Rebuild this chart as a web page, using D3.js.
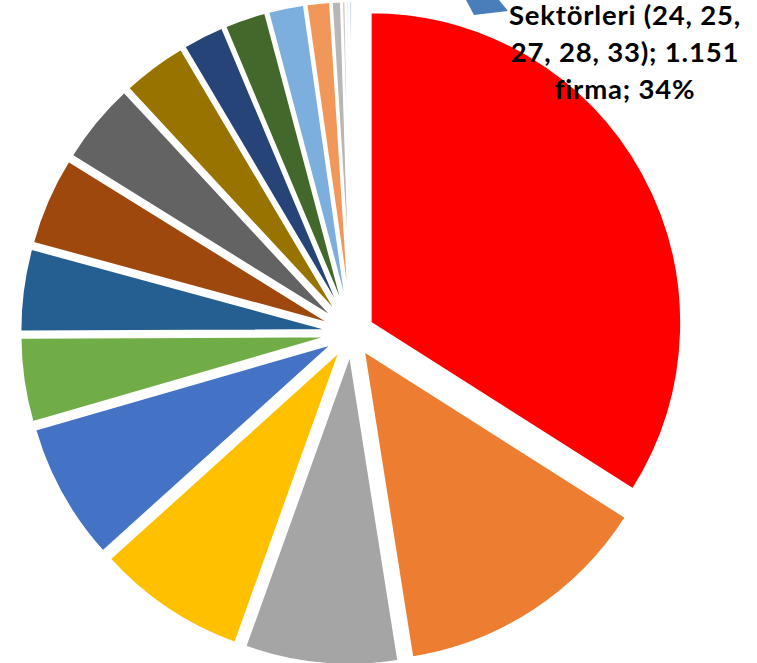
<!DOCTYPE html>
<html>
<head>
<meta charset="utf-8">
<script src="https://cdn.jsdelivr.net/npm/d3@7"></script>
<style>
  body { margin: 0; background: #fff; }
  text { font-family: Lato, "Open Sans", sans-serif; font-weight: bold; }
</style>
</head>
<body>
<div id="chart"></div>
<script>
// firm counts per sector group
const categories = ["Sektörleri (24, 25, 27, 28, 33)", "Grup 2", "Grup 3", "Grup 4", "Grup 5", "Grup 6",
    "Grup 7", "Grup 8", "Grup 9", "Grup 10", "Grup 11", "Grup 12", "Grup 13", "Grup 14",
    "Grup 15", "Grup 16", "Grup 17", "Grup 18"];
const firms = [1151, 457, 270, 265, 244, 149, 146, 156, 144, 115, 74, 74, 64, 42, 17, 7, 5, 5];
const colors = ["#FF0000", "#ED7D31", "#A5A5A5", "#FFC000", "#4472C4", "#70AD47", "#255E91", "#9E480E",
    "#636363", "#997300", "#264478", "#43682B", "#7CAFDD", "#F1975A", "#B7B7B7", "#CCCCCC", "#FFCD33", "#698ED0"];
const labelLines = ["Sektörleri (24, 25,", "27, 28, 33); 1.151", "firma; 34%"];

const width = 757, height = 663;
const cx = 352, cy = 333, radius = 311, explode = 21;

const svg = d3.select("#chart").append("svg")
    .attr("width", width)
    .attr("height", height);

const pie = d3.pie().sort(null).value(d => d.v);
const arc = d3.arc().innerRadius(0).outerRadius(radius);

const data = firms.map((v, i) => ({ name: categories[i], v: v, color: colors[i] }));

const g = svg.append("g").attr("transform", "translate(" + cx + "," + cy + ")");

// every slice is pulled out a bit along its middle angle
g.selectAll("path.slice")
    .data(pie(data))
    .join("path")
    .attr("class", "slice")
    .attr("d", arc)
    .attr("fill", d => d.data.color)
    .attr("stroke", "#fff")
    .attr("stroke-width", 2.5)
    .attr("transform", d => {
        let mid = (d.startAngle + d.endAngle) / 2;
        return "translate(" + (Math.sin(mid) * explode) + "," + (-Math.cos(mid) * explode) + ")";
    });

// leader arrow (cut off at the top edge)
svg.append("path")
    .attr("d", "M466,0 L474,15 L508,11 L499,0 Z")
    .attr("fill", "#4A7EBB");

// data label for the biggest slice
const label = svg.append("text")
    .attr("x", 625)
    .attr("y", 25)
    .attr("text-anchor", "middle")
    .attr("font-size", 27.5)
    .attr("letter-spacing", 0.8)
    .attr("fill", "#000");

label.selectAll("tspan")
    .data(labelLines)
    .join("tspan")
    .attr("x", 625)
    .attr("dy", (d, i) => i == 0 ? 0 : 37)
    .text(d => d);
</script>
</body>
</html>
